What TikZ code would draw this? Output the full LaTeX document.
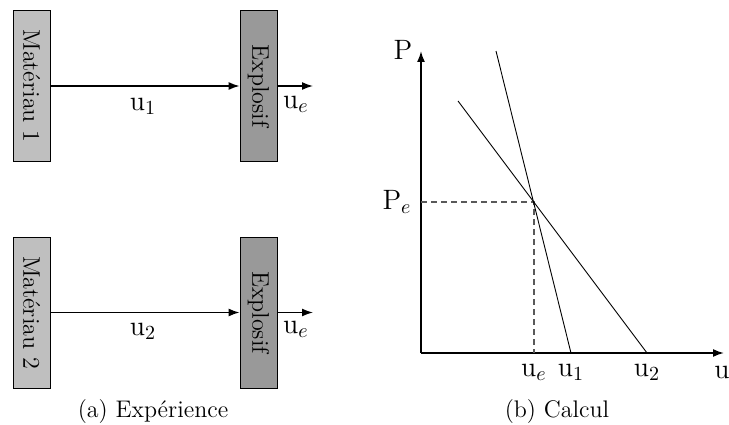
\documentclass[tikz,border=0pt]{standalone}
\usetikzlibrary{arrows.meta}
\begin{document}
\begin{tikzpicture}[x=0.5pt,y=0.5pt,
  mat/.style={draw=black,line width=0.4pt,fill=black!25,rotate=-90,minimum width=75.5pt,minimum height=18.5pt,inner sep=0pt,font=\fontsize{12}{14}\selectfont},
  expl/.style={mat,fill=black!40},
  flow/.style={line width=0.75pt,-{Latex[length=5.5pt,width=4pt]}},
  axis/.style={line width=0.85pt,-{Latex[length=5.5pt,width=4pt]}},
  curve/.style={line width=0.45pt},
  guide/.style={line width=0.55pt,black!65,dash pattern=on 3pt off 2pt},
  lab/.style={inner sep=0pt,font=\fontsize{14}{16}\selectfont},
  capt/.style={inner sep=0pt,font=\fontsize{12}{14}\selectfont}]
\useasboundingbox (0,0) rectangle (729,424);
% (a) experience
\node[mat] (m1) at (31.5,338) {Mat\'eriau 1};
\node[expl] (e1) at (258.5,338) {Explosif};
\coordinate (o1) at (313,338);
\draw[flow] (m1.north) -- (e1.south);
\draw[flow] (e1.north) -- (o1);
\node[lab] (l1) at (143,318) {u$_1$};
\node[lab] (le1) at (296,320) {u$_e$};
\node[mat] (m2) at (31.5,111.5) {Mat\'eriau 2};
\node[expl] (e2) at (258.5,111.5) {Explosif};
\coordinate (o2) at (313,111.5);
\draw[flow] (m2.north) -- (e2.south);
\draw[flow] (e2.north) -- (o2);
\node[lab] (l2) at (143,93) {u$_2$};
\node[lab] (le2) at (296,95) {u$_e$};
\node[capt] (ca) at (153,12) {(a) Exp\'erience};
% (b) calcul
\coordinate (O) at (421,71);
\coordinate (Ytop) at (421,373);
\coordinate (Xend) at (724,71);
\draw[axis] (O) -- (Ytop);
\draw[axis] (O) -- (Xend);
\node[lab] (P) at (403,374) {P};
\node[lab] (U) at (722,52) {u};
\coordinate (E) at (534,222);
\coordinate (Ey) at (421,222);
\coordinate (Ex) at (534,71);
\draw[guide] (Ey) -- (E) -- (Ex);
\node[lab] (Pe) at (397,222) {P$_e$};
\node[lab] (ue) at (534,52) {u$_e$};
\coordinate (a1) at (496,373);
\coordinate (b1) at (571,71);
\coordinate (a2) at (458,323);
\coordinate (b2) at (647,71);
\draw[curve] (a1) -- (b1);
\draw[curve] (a2) -- (b2);
\node[lab] (u1) at (571,52) {u$_1$};
\node[lab] (u2) at (647,52) {u$_2$};
\node[capt] (cb) at (557,12) {(b) Calcul};
\end{tikzpicture}
\end{document}
